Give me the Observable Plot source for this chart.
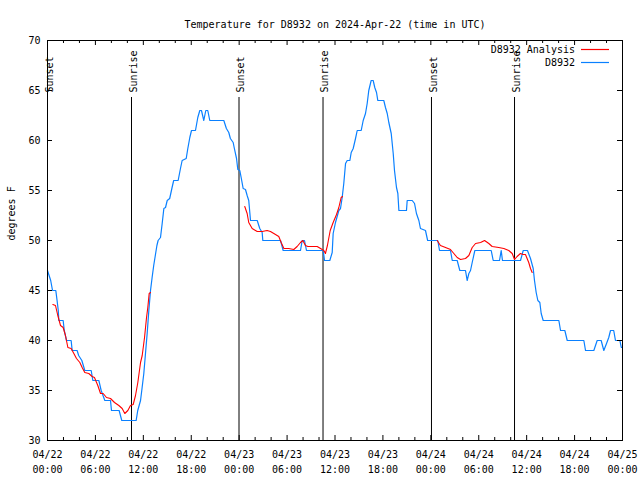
<!DOCTYPE html>
<html><head><meta charset="utf-8">
<script src="https://cdn.jsdelivr.net/npm/d3@7"></script>
<script src="https://cdn.jsdelivr.net/npm/@observablehq/plot@0.6"></script>
<style>body{margin:0;background:#fff}</style>
</head><body><div id="chart"></div>
<script>
const title = "Temperature for D8932 on 2024-Apr-22 (time in UTC)";
const yLabel = "degrees F";
const seriesNames = ["D8932 Analysis", "D8932"];
const seriesColors = ["#ff0000", "#0a80ff"];
const startUTC = Date.UTC(2024, 3, 22);
const endUTC = Date.UTC(2024, 3, 25);
const yTicks = [30, 35, 40, 45, 50, 55, 60, 65, 70];

// Observed D8932 (hours since 04/22 00:00 UTC, degrees F)
const obsHours = [0.0,0.2,0.4,0.63,1.04,1.2,1.35,1.42,1.96,2.1,2.38,2.96,3.09,3.71,3.9,4.3,4.67,5.47,5.68,6.43,6.72,7.18,7.89,8.01,8.97,9.3,11.1,11.3,11.65,11.85,12.06,12.27,12.48,12.69,12.9,13.1,13.3,13.5,13.7,13.85,14.15,14.36,14.57,14.78,14.99,15.3,15.6,15.8,16.36,16.65,16.86,17.37,17.57,17.82,18.03,18.53,18.82,19.07,19.28,19.57,19.82,20.07,20.32,22.08,22.4,22.7,22.9,23.25,23.4,23.67,23.83,24.08,24.25,24.5,24.79,25.0,25.2,25.42,26.26,26.58,26.88,26.96,29.18,29.51,31.68,31.89,32.18,32.43,34.52,34.69,35.35,35.65,35.77,36.06,36.48,36.69,36.9,37.1,37.32,37.53,37.86,38.03,38.28,38.57,38.78,39.28,39.53,39.82,40.03,40.23,40.53,40.78,40.98,41.2,41.36,42.11,42.32,42.54,42.74,43.04,43.29,43.45,43.7,43.87,44.0,44.95,45.04,45.67,45.96,46.2,46.5,46.7,47.33,47.6,48.87,49.09,50.46,50.68,51.3,51.63,52.34,52.55,52.76,52.97,53.18,53.51,55.56,55.81,56.6,56.81,56.97,59.23,59.57,60.1,60.48,60.82,60.98,61.19,61.4,61.65,61.82,62.07,64.03,64.24,64.78,65.08,67.16,67.37,68.41,68.83,69.33,69.66,70.0,70.28,70.5,70.9,71.12,71.67,71.85,72.0];
const obsTemps = [47,46.5,46,45,45,44,43,42,42,41,40,40,39,39,38.5,38,37,37,36,36,35,34,34,33,33,32,32,33,34,35.3,36.7,38.7,40.7,43,45,46.3,47.5,48.5,49.5,50,50.3,51.7,53.2,53.3,54,54.2,55.3,56,56,57.2,58,58.2,59.2,60.3,61,61,62.3,63,63,62,63,63,62,62,61.2,60.8,60.2,59.8,59.2,58.2,57.1,57,56.3,55.2,55.1,54.5,54,52,52,51.2,50.8,50,50,49,49,50,50,49,49,48,48,48.8,50.7,51.8,53,53.2,54.3,55.7,57.7,58,58,58.8,59.2,60.2,61,61,62,62.7,63.7,65,66,66,65.3,64.8,64,64,63.3,62.7,61.8,60.7,58.7,57,55.3,54.7,53,53,54,54,53.7,52.7,52,51.2,51,50,50,49,49,48,48,47,47,46,46.7,47,47.8,49,49,48,48,49,48,48,49,49,48.2,47.2,46,44.8,44,43.8,42.7,42,42,41,41,40,40,39,39,40,40,39,39.7,40.3,41,41,40,40,39.3,39.3];

// D8932 Analysis (NaN separates the three runs)
const anaHours = [0.67,1.0,1.29,1.63,1.96,2.25,2.55,2.96,3.3,3.63,4.05,4.34,4.67,5.17,5.59,5.88,6.3,6.64,6.97,7.39,7.89,8.39,8.93,9.35,9.68,10.06,10.39,10.73,11.02,11.31,11.65,11.86,12.15,12.4,12.56,12.73,12.9,
  NaN,
  24.7,25.0,25.2,25.63,26.26,26.88,27.5,27.92,28.34,28.96,29.26,29.6,30.2,30.84,31.26,31.68,31.97,32.3,32.6,33.77,34.19,34.6,34.8,35.05,35.4,35.77,36.19,36.48,36.77,36.94,
  NaN,
  48.8,49.2,49.84,50.46,50.88,51.3,51.72,52.34,52.76,53.18,53.6,54.23,54.73,55.26,55.68,56.5,57.14,57.76,58.19,58.48,58.8,59.22,59.55,59.85,60.26,60.48,60.69];
const anaTemps = [43.6,43.5,42.5,41.5,41.3,40.5,39.3,39.2,38.7,38.2,37.8,37.3,36.8,36.7,36.4,36.3,35.5,34.7,34.7,34.3,34.2,33.8,33.5,33.2,32.7,33,33.5,33.6,34.5,35.8,37.8,38.5,40.3,42.3,43.3,44.7,44.8,
  NaN,
  53.4,52.7,51.8,51.2,50.9,50.9,51,50.9,50.7,50.4,49.8,49.2,49.2,49.1,49.4,49.8,50,49.5,49.4,49.4,49.2,49,48.7,49.5,51,51.8,52.6,53.3,54.3,54.4,
  NaN,
  50,49.5,49.3,49.1,48.7,48.3,48.1,48.2,48.5,49.3,49.7,49.8,50,49.7,49.4,49.3,49.2,49,48.7,48.1,48.4,48.7,48.6,48.6,47.8,47.2,46.8];

// Sunrise / sunset events
const eventHours = [0, 10.52, 23.98, 34.5, 48.08, 58.48];
const eventNames = ["Sunset", "Sunrise", "Sunset", "Sunrise", "Sunset", "Sunrise"];

const toDate = h => new Date(startUTC + h * 3600e3);
const obs = obsHours.map((h, i) => ({t: toDate(h), v: obsTemps[i]}));
const ana = anaHours.map((h, i) => ({t: toDate(h), v: anaTemps[i]}));
const events = eventHours.map((h, i) => ({t: toDate(h), name: eventNames[i]}));
const start = new Date(startUTC), end = new Date(endUTC);
const xMajor = d3.utcHour.every(6).range(start, new Date(endUTC + 1));
const xMinor = d3.utcHour.every(2).range(start, new Date(endUTC + 1)).filter(d => d.getUTCHours() % 6 !== 0);

function legend(index, scales, values, dimensions) {
  const {width, marginRight, marginTop} = dimensions;
  const right = width - marginRight;
  const g = d3.create("svg:g");
  seriesNames.forEach((name, i) => {
    const y = marginTop + 9.5 + i * 13;
    g.append("text").attr("x", right - 47).attr("y", y).attr("dy", "0.32em")
      .attr("text-anchor", "end").attr("fill", "black").text(name);
    g.append("line").attr("x1", right - 41).attr("x2", right - 13)
      .attr("y1", y).attr("y2", y).attr("stroke", seriesColors[i]).attr("stroke-width", 1.2);
  });
  return g.node();
}

const chart = Plot.plot({
  width: 640, height: 480,
  marginTop: 40, marginBottom: 40, marginLeft: 47, marginRight: 18,
  style: {fontFamily: "'DejaVu Sans Mono', monospace", fontSize: "10px", background: "white", color: "black"},
  x: {type: "utc", domain: [start, end]},
  y: {domain: [30, 70]},
  marks: [
    Plot.ruleX(events, {x: "t", insetTop: 57, stroke: "black"}),
    Plot.text(events, {x: "t", text: "name", frameAnchor: "top", dy: 52, dx: -2, rotate: -90, textAnchor: "start", fill: "black"}),
    Plot.line(obs, {x: "t", y: "v", stroke: seriesColors[1], strokeWidth: 1.2}),
    Plot.line(ana, {x: "t", y: "v", stroke: seriesColors[0], strokeWidth: 1.1}),
    Plot.tickX(xMajor, {insetTop: 395, stroke: "black"}),
    Plot.tickX(xMajor, {insetBottom: 395, stroke: "black"}),
    Plot.tickX(xMinor, {insetTop: 397, stroke: "black"}),
    Plot.tickX(xMinor, {insetBottom: 397, stroke: "black"}),
    Plot.tickY(yTicks, {insetRight: 570, stroke: "black"}),
    Plot.tickY(yTicks, {insetLeft: 570, stroke: "black"}),
    Plot.axisX({ticks: xMajor, tickSize: 0, tickPadding: 7, tickFormat: d3.utcFormat("%m/%d\n%H:%M"), lineHeight: 1.5, label: null}),
    Plot.axisY({ticks: yTicks, tickSize: 0, tickPadding: 7, label: null}),
    Plot.text([yLabel], {frameAnchor: "left", dx: -36, rotate: -90, fill: "black"}),
    Plot.text([title], {frameAnchor: "top", dy: -20, fill: "black"}),
    legend,
    Plot.frame({stroke: "black"})
  ]
});
document.getElementById("chart").append(chart);
</script>
</body></html>
